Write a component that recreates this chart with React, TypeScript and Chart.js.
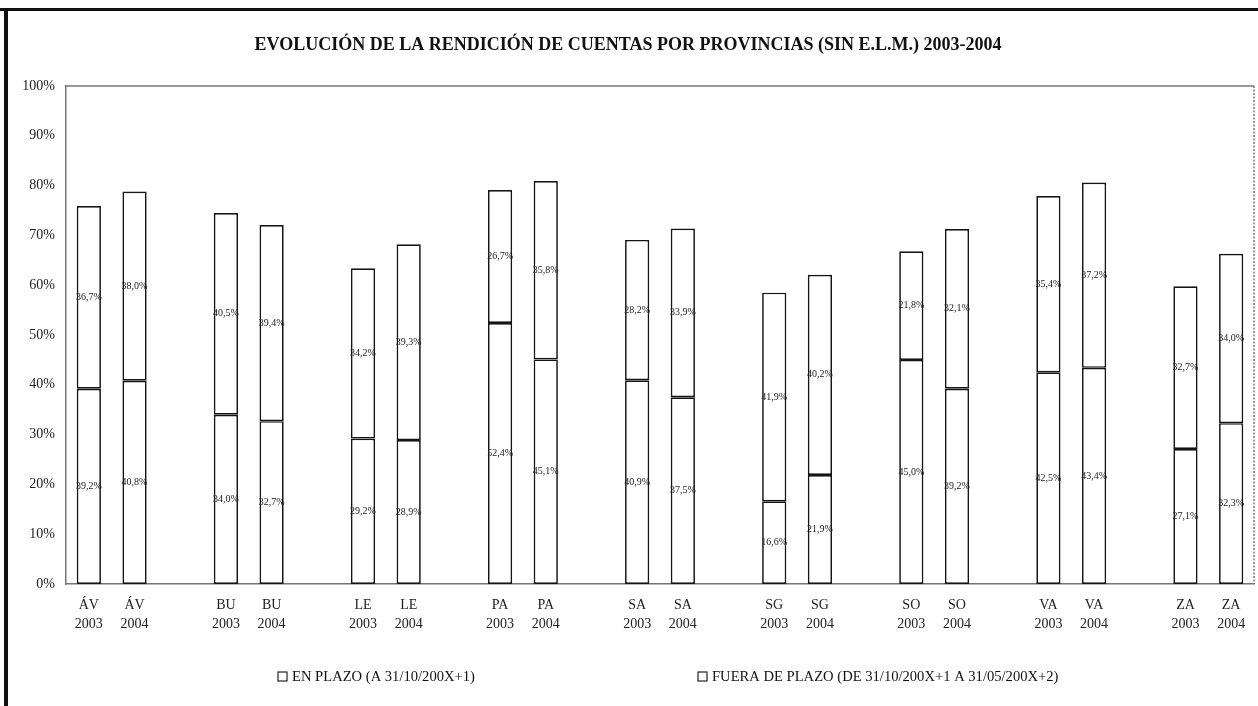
import React, { useEffect, useRef } from "react";
import { Chart, registerables } from "chart.js";

Chart.register(...registerables);

// Provinces and years shown on the x axis
const provinces = ["ÁV", "BU", "LE", "PA", "SA", "SG", "SO", "VA", "ZA"];
const years = ["2003", "2004"];

// Percentages per province/year, ordered ÁV 2003, ÁV 2004, BU 2003, ...
const enPlazo = [39.2, 40.8, 34.0, 32.7, 29.2, 28.9, 52.4, 45.1, 40.9, 37.5, 16.6, 21.9, 45.0, 39.2, 42.5, 43.4, 27.1, 32.3];
const fueraPlazo = [36.7, 38.0, 40.5, 39.4, 34.2, 39.3, 26.7, 35.8, 28.2, 33.9, 41.9, 40.2, 21.8, 32.1, 35.4, 37.2, 32.7, 34.0];

const yTicks = [0, 10, 20, 30, 40, 50, 60, 70, 80, 90, 100];

const titleText = "EVOLUCIÓN DE LA RENDICIÓN DE CUENTAS POR PROVINCIAS (SIN E.L.M.) 2003-2004";
const seriesNames = ["EN PLAZO (A 31/10/200X+1)", "FUERA DE PLAZO (DE 31/10/200X+1 A 31/05/200X+2)"];

const SERIF = "'Liberation Serif', 'Times New Roman', serif";

// Build slot list: two bars per province followed by an empty spacer slot
function buildSlots() {
  const labels: (string | string[])[] = [];
  const a: (number | null)[] = [];
  const b: (number | null)[] = [];
  provinces.forEach((p, i) => {
    years.forEach((y, j) => {
      labels.push([p, y]);
      a.push(enPlazo[i * years.length + j]);
      b.push(fueraPlazo[i * years.length + j]);
    });
    if (i < provinces.length - 1) {
      labels.push("");
      a.push(null);
      b.push(null);
    }
  });
  return { labels, a, b };
}

const fmt = (v: number) => v.toFixed(1).replace(".", ",") + "%";

const decorPlugin = {
  id: "decor",
  beforeDraw(chart: any) {
    const { ctx, chartArea } = chart;
    ctx.save();
    ctx.fillStyle = "#fff";
    ctx.fillRect(0, 0, chart.width, chart.height);
    // page frame
    ctx.fillStyle = "#111";
    ctx.fillRect(0, 8, chart.width, 3);
    ctx.fillRect(4, 8, 4, chart.height - 8);
    // plot area top and right edges
    ctx.strokeStyle = "#777";
    ctx.lineWidth = 1.5;
    ctx.beginPath();
    ctx.moveTo(chartArea.left, chartArea.top);
    ctx.lineTo(chartArea.right, chartArea.top);
    ctx.stroke();
    ctx.setLineDash([2, 1.5]);
    ctx.beginPath();
    ctx.moveTo(chartArea.right, chartArea.top);
    ctx.lineTo(chartArea.right, chartArea.bottom);
    ctx.stroke();
    ctx.setLineDash([]);
    // title
    ctx.fillStyle = "#111";
    ctx.font = `bold 18px ${SERIF}`;
    ctx.textAlign = "center";
    ctx.textBaseline = "middle";
    ctx.fillText(titleText, 628, 45);
    // legend
    ctx.font = `14.6px ${SERIF}`;
    ctx.textAlign = "left";
    const legendX = [278, 698];
    const legendY = 677;
    seriesNames.forEach((name, i) => {
      ctx.strokeStyle = "#222";
      ctx.lineWidth = 1.2;
      ctx.fillStyle = "#fff";
      ctx.fillRect(legendX[i], legendY - 5, 9, 9);
      ctx.strokeRect(legendX[i], legendY - 5, 9, 9);
      ctx.fillStyle = "#111";
      ctx.fillText(name, legendX[i] + 14, legendY);
    });
    ctx.restore();
  },
  afterDatasetsDraw(chart: any) {
    const { ctx } = chart;
    ctx.save();
    ctx.font = `10px ${SERIF}`;
    ctx.fillStyle = "#222";
    ctx.textAlign = "center";
    ctx.textBaseline = "middle";
    chart.data.datasets.forEach((ds: any, di: number) => {
      const meta = chart.getDatasetMeta(di);
      meta.data.forEach((bar: any, i: number) => {
        const v = ds.data[i];
        if (v == null) return;
        const { x, y, base } = bar.getProps(["x", "y", "base"], true);
        ctx.fillText(fmt(v), x, (y + base) / 2);
      });
    });
    ctx.restore();
  },
};

export default function App() {
  const ref = useRef<HTMLCanvasElement | null>(null);

  useEffect(() => {
    document.body.style.margin = "0";
    if (!ref.current) return;
    const { labels, a, b } = buildSlots();
    const barStyle = {
      backgroundColor: "#fff",
      borderColor: "#151515",
      borderWidth: 1.7,
      borderSkipped: false as const,
      barPercentage: 0.53,
      categoryPercentage: 1,
    };
    const chart = new Chart(ref.current, {
      type: "bar",
      data: {
        labels,
        datasets: [
          { label: seriesNames[0], data: a, ...barStyle },
          { label: seriesNames[1], data: b, ...barStyle },
        ],
      },
      options: {
        responsive: false,
        animation: false,
        devicePixelRatio: 1,
        layout: { padding: { top: 86, right: 4, left: 0, bottom: 0 } },
        plugins: {
          legend: { display: false },
          title: { display: false },
          tooltip: { enabled: false },
        },
        scales: {
          x: {
            stacked: true,
            grid: { display: false, drawTicks: false },
            border: { display: true, color: "#777", width: 1.5, dash: [3, 1] },
            ticks: {
              autoSkip: false,
              maxRotation: 0,
              minRotation: 0,
              padding: 12,
              color: "#222",
              font: { family: SERIF, size: 14, lineHeight: 1.35 },
            },
            afterFit: (scale: any) => {
              scale.height = 122;
            },
          },
          y: {
            stacked: true,
            min: 0,
            max: 100,
            afterBuildTicks: (scale: any) => {
              scale.ticks = yTicks.map((v) => ({ value: v }));
            },
            grid: { display: false, drawTicks: false },
            border: { display: true, color: "#777", width: 1.5 },
            ticks: {
              padding: 11,
              color: "#222",
              font: { family: SERIF, size: 14 },
              callback: (v: any) => `${v}%`,
            },
            afterFit: (scale: any) => {
              scale.width = 66;
            },
          },
        },
      },
      plugins: [decorPlugin],
    });
    return () => chart.destroy();
  }, []);

  return (
    <div style={{ width: 1258, height: 706, position: "relative" }}>
      <canvas ref={ref} width={1258} height={706} style={{ display: "block" }} />
    </div>
  );
}
